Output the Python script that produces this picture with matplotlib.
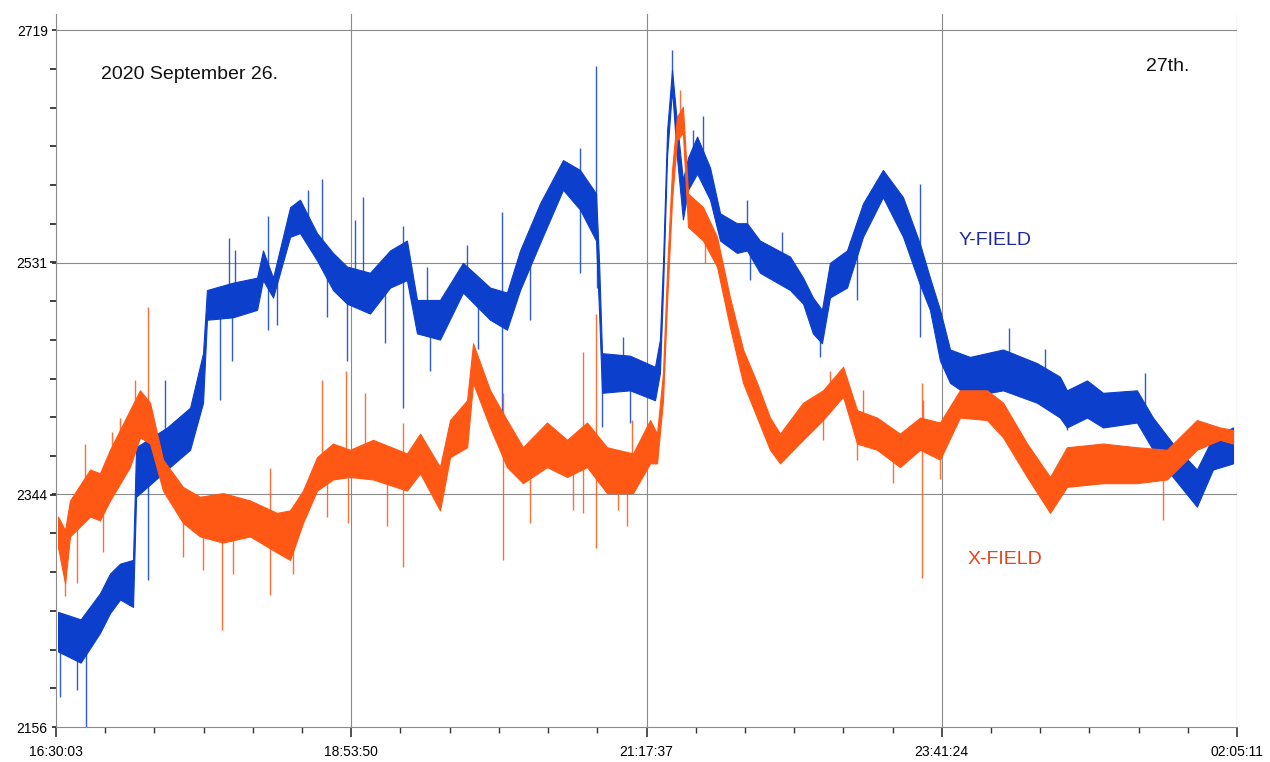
import numpy as np
import matplotlib
matplotlib.use("Agg")
import matplotlib.pyplot as plt

plt.rcParams['font.family'] = ['Liberation Sans', 'DejaVu Sans']

# time axis: minutes after 16:30:03 (end 02:05:11)
major_min = [0.0, 143.78, 287.57, 431.35, 575.13]
major_lbl = ["16:30:03", "18:53:50", "21:17:37", "23:41:24", "02:05:11"]
y_major = [2156, 2344, 2531, 2719]

# Y-FIELD band (time, lower edge, upper edge)
y_t = [1.0, 12.0, 21.4, 26.3, 31.2, 37.5, 39.0, 54.1, 65.3, 71.6, 73.5, 86.2,
       97.9, 100.8, 105.7, 114.0, 118.8, 127.1, 134.9, 141.7, 152.9, 162.7,
       170.9, 175.8, 187.0, 198.2, 211.4, 219.6, 226.0, 235.7, 246.9, 255.2,
       263.0, 264.5, 265.9, 279.5, 291.7, 294.1, 295.6, 297.6, 300.0, 302.4,
       305.3, 307.8, 312.2, 318.5, 323.4, 331.6, 336.5, 342.8, 357.5, 363.8,
       368.6, 373.0, 376.9, 385.2, 393.0, 402.7, 412.5, 420.8, 425.6, 430.5,
       435.4, 445.1, 461.2, 477.7, 488.9, 492.3, 502.1, 509.9, 526.4, 534.2,
       543.9, 555.6, 563.4, 573.2]
y_lo = [2217, 2208, 2232, 2248, 2259, 2253, 2342, 2364, 2380, 2418, 2485, 2487,
        2493, 2517, 2503, 2552, 2555, 2533, 2509, 2498, 2490, 2511,
        2517, 2474, 2469, 2507, 2485, 2477, 2509, 2547, 2590, 2574,
        2549, 2490, 2426, 2428, 2420, 2442, 2509, 2618, 2671, 2616,
        2566, 2590, 2603, 2582, 2549, 2539, 2541, 2523, 2509, 2498,
        2474, 2466, 2503, 2511, 2552, 2584, 2552, 2513, 2493, 2452,
        2434, 2423, 2428, 2418, 2406, 2398, 2406, 2398, 2402, 2380,
        2358, 2334, 2364, 2369]
y_hi = [2249, 2243, 2264, 2280, 2288, 2291, 2382, 2398, 2414, 2458, 2509, 2515,
        2519, 2541, 2519, 2576, 2582, 2555, 2539, 2528, 2523, 2541,
        2549, 2501, 2501, 2531, 2511, 2507, 2541, 2579, 2614, 2606,
        2587, 2530, 2458, 2456, 2447, 2469, 2531, 2638, 2687, 2644,
        2598, 2616, 2633, 2608, 2571, 2563, 2563, 2549, 2536, 2519,
        2503, 2493, 2531, 2541, 2579, 2606, 2584, 2546, 2519, 2493,
        2461, 2455, 2461, 2450, 2439, 2428, 2436, 2426, 2428, 2406,
        2385, 2364, 2390, 2398]

# X-FIELD band (time, lower edge, upper edge)
x_t = [1.0, 4.4, 6.8, 16.6, 21.4, 26.3, 36.0, 40.9, 45.8, 52.1, 61.8, 70.1,
       81.3, 94.5, 107.6, 114.0, 120.3, 127.1, 134.9, 143.2, 154.4, 170.9,
       177.3, 187.0, 191.9, 200.2, 203.1, 211.4, 219.6, 227.4, 239.1, 248.9,
       258.6, 268.3, 281.0, 289.3, 292.7, 295.6, 297.6, 300.0, 302.4, 305.3,
       307.8, 315.1, 321.9, 328.2, 334.6, 341.4, 347.7, 352.6, 363.8, 373.5,
       383.3, 390.1, 399.8, 411.0, 420.8, 430.5, 440.2, 453.4, 461.2, 472.9,
       484.1, 492.3, 509.9, 526.4, 541.0, 555.6, 566.8, 573.2]
x_lo = [2301, 2272, 2310, 2326, 2323, 2339, 2366, 2390, 2385, 2347, 2321, 2310,
        2305, 2310, 2297, 2291, 2321, 2347, 2356, 2358, 2356, 2347,
        2361, 2331, 2374, 2382, 2434, 2398, 2366, 2353, 2366, 2358,
        2366, 2345, 2345, 2369, 2369, 2420, 2501, 2582, 2630, 2636,
        2560, 2549, 2528, 2479, 2434, 2406, 2380, 2369, 2388, 2404,
        2423, 2385, 2380, 2366, 2380, 2372, 2406, 2404, 2390, 2358,
        2329, 2350, 2353, 2353, 2356, 2380, 2388, 2385]
x_hi = [2326, 2315, 2339, 2364, 2361, 2380, 2412, 2428, 2418, 2372, 2350, 2342,
        2345, 2339, 2329, 2331, 2347, 2374, 2385, 2380, 2388, 2377,
        2393, 2366, 2404, 2420, 2466, 2428, 2404, 2382, 2402, 2388,
        2402, 2382, 2377, 2404, 2393, 2442, 2525, 2606, 2649, 2657,
        2587, 2576, 2552, 2503, 2461, 2434, 2406, 2393, 2418, 2428,
        2447, 2412, 2406, 2393, 2406, 2402, 2428, 2428, 2418, 2385,
        2358, 2382, 2385, 2382, 2380, 2404, 2398, 2396]

# isolated spikes (time, tip value)
y_spk_t = [1.9, 10.2, 14.6, 44.8, 53.1, 79.9, 84.2, 85.7, 87.2, 103.2, 103.2,
           107.6, 122.7, 129.5, 132.0, 141.7, 145.6, 149.5, 160.2, 169.0, 169.0,
           180.7, 182.1, 200.2, 205.5, 217.2, 217.2, 230.8, 255.2, 255.2, 263.0,
           263.5, 265.9, 276.1, 279.5, 300.0, 310.2, 315.1, 336.5, 338.0, 353.6,
           372.1, 386.7, 390.1, 420.8, 420.8, 464.1, 481.6, 492.3, 530.3]
y_spk_v = [2180, 2186, 2156, 2275, 2436, 2420, 2551, 2452, 2541, 2569, 2477,
           2481, 2590, 2599, 2487, 2452, 2566, 2584, 2466, 2414, 2561,
           2528, 2444, 2545, 2461, 2572, 2404, 2485, 2624, 2523, 2690,
           2511, 2398, 2471, 2402, 2703, 2638, 2650, 2582, 2517, 2556,
           2455, 2549, 2501, 2595, 2471, 2478, 2461, 2396, 2442]
x_spk_t = [4.4, 10.2, 14.1, 22.9, 27.3, 31.2, 38.5, 44.8, 61.8, 71.6, 80.8, 86.2,
           104.2, 104.2, 115.4, 129.5, 132.0, 141.2, 142.2, 150.5, 161.2, 169.0,
           169.0, 217.7, 217.7, 230.8, 251.8, 256.6, 256.6, 263.0, 263.0, 273.7,
           278.1, 280.5, 303.9, 316.1, 373.5, 376.9, 390.1, 393.0, 407.6, 421.7,
           421.7, 422.2, 430.5, 539.1]
x_spk_v = [2262, 2272, 2385, 2297, 2394, 2406, 2436, 2495, 2293, 2283, 2234, 2280,
           2263, 2365, 2280, 2436, 2326, 2444, 2321, 2426, 2318, 2285,
           2402, 2291, 2426, 2321, 2331, 2459, 2329, 2490, 2301, 2331,
           2318, 2404, 2671, 2531, 2388, 2444, 2372, 2428, 2353, 2276,
           2434, 2420, 2356, 2323]

blue = '#0b3fcc'
orange = '#ff5714'

fig = plt.figure(figsize=(12.7, 7.62), dpi=100)
ax = fig.add_axes([0.0441, 0.0459, 0.9299, 0.9357])

def draw(ax, t, lo, hi, st, sv, col):
    t = np.array(t); lo = np.array(lo); hi = np.array(hi)
    ax.fill_between(t, lo, hi, color=col, lw=0.8, zorder=3)
    base = np.interp(st, t, (lo + hi) / 2)
    ax.vlines(st, base, sv, color=col, lw=1.0, alpha=0.85, zorder=3)

draw(ax, y_t, y_lo, y_hi, y_spk_t, y_spk_v, blue)
draw(ax, x_t, x_lo, x_hi, x_spk_t, x_spk_v, orange)

ax.set_xlim(0, 575.13)
ax.set_ylim(2156, 2732)

ax.set_xticks(major_min)
ax.set_xticklabels(major_lbl)
ax.set_xticks(np.arange(0, 575.2, 575.13 / 24), minor=True)
ax.set_yticks(y_major)
ax.set_yticklabels([str(v) for v in y_major])
ax.set_yticks(np.linspace(2156, 2719, 19), minor=True)

for v in y_major[1:]:
    ax.axhline(v, color='#8a8a8a', lw=0.8, zorder=1)
for m in major_min[1:]:
    ax.axvline(m, color='#8a8a8a', lw=0.8, zorder=1)

for s in ['top', 'right']:
    ax.spines[s].set_visible(False)
ax.spines['left'].set_color('#8a8a8a')
ax.spines['bottom'].set_color('#8a8a8a')
ax.spines['left'].set_linewidth(0.8)
ax.spines['bottom'].set_linewidth(0.8)

ax.tick_params(axis='x', which='major', length=7, width=1.2, color='#333333',
               labelsize=10, pad=6)
ax.tick_params(axis='x', which='minor', length=4, width=1.0, color='#333333')
ax.tick_params(axis='y', which='major', length=3, width=1.3, color='#333333',
               labelsize=10, pad=3)
ax.tick_params(axis='y', which='minor', length=4, width=1.3, color='#333333')

ax.text(21.9, 2683, "2020 September 26.", fontsize=14, va='center', color='#111111')
ax.text(530.8, 2690, "27th.", fontsize=14, va='center', color='#111111')
ax.text(439.3, 2549, "Y-FIELD", fontsize=14, va='center', color='#1f2a9a')
ax.text(444.1, 2291, "X-FIELD", fontsize=14, va='center', color='#e5431c')

fig.savefig("out.png", dpi=100)
